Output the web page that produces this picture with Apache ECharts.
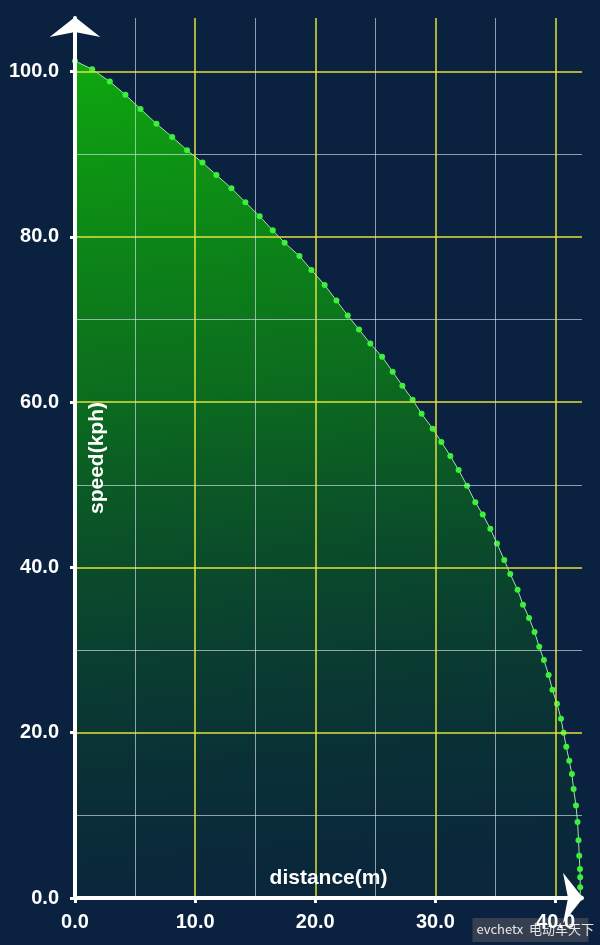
<!DOCTYPE html>
<html>
<head>
<meta charset="utf-8">
<script src="https://cdn.jsdelivr.net/npm/echarts@6/dist/echarts.min.js"></script>
<style>
  html, body { margin: 0; padding: 0; background: #0a2140; }
  #chart { width: 600px; height: 945px; }
</style>
</head>
<body>
<div id="chart"></div>
<script>
// braking run: distance (m) vs speed (kph)
const distance = [
  0, 1.43, 2.90, 4.20, 5.45, 6.78, 8.09, 9.33, 10.61, 11.77,
  13.02, 14.18, 15.37, 16.46, 17.45, 18.68, 19.68, 20.78, 21.76, 22.70,
  23.64, 24.58, 25.56, 26.44, 27.25, 28.10, 28.85, 29.77, 30.49, 31.24,
  31.93, 32.63, 33.32, 33.94, 34.57, 35.12, 35.73, 36.23, 36.84, 37.29,
  37.79, 38.25, 38.64, 39.03, 39.42, 39.74, 40.12, 40.45, 40.67, 40.89,
  41.14, 41.36, 41.50, 41.70, 41.83, 41.91, 41.97, 42.03, 42.05, 42.05,
  42.05
]
const speed = [
  101.3, 100.3, 98.8, 97.2, 95.5, 93.7, 92.1, 90.5, 89.0, 87.5,
  85.9, 84.2, 82.5, 80.8, 79.3, 77.7, 76.0, 74.2, 72.3, 70.5,
  68.8, 67.1, 65.5, 63.7, 62.0, 60.3, 58.6, 56.8, 55.2, 53.5,
  51.8, 49.9, 47.9, 46.4, 44.7, 42.9, 40.9, 39.2, 37.3, 35.5,
  33.9, 32.2, 30.4, 28.8, 27.0, 25.2, 23.5, 21.7, 20.0, 18.3,
  16.6, 15.0, 13.2, 11.2, 9.2, 7.0, 5.1, 3.5, 2.5, 1.3,
  0
]
const xMax = 42.2
const yMax = 106.5
const xName = 'distance(m)'
const yName = 'speed(kph)'

const chart = echarts.init(document.getElementById('chart'))

const labelStyle = {
  color: '#ffffff',
  fontFamily: 'Liberation Sans, Arial, sans-serif',
  fontWeight: 'bold',
  fontSize: 20,
  formatter: v => v.toFixed(1),
  showMaxLabel: false
}
const axisLine = {
  show: true,
  symbol: ['none', 'arrow'],
  symbolSize: [38, 20],
  symbolOffset: [0, 1],
  lineStyle: { color: '#ffffff', width: 4 }
}
const splitLine = { show: true, showMaxLine: false, lineStyle: { color: '#e0e03a', width: 1.5 } }
const minorSplitLine = { show: true, lineStyle: { color: 'rgba(215,225,240,0.65)', width: 1 } }
const nameStyle = {
  color: '#ffffff',
  fontFamily: 'Liberation Sans, Arial, sans-serif',
  fontWeight: 'bold',
  fontSize: 21,
  verticalAlign: 'middle'
}

chart.setOption({
  backgroundColor: '#0a2140',
  animation: false,
  grid: { left: 75, right: 18, top: 18, bottom: 47 },
  xAxis: {
    type: 'value',
    z: 5,
    min: 0,
    max: xMax,
    interval: 10,
    name: xName,
    nameLocation: 'middle',
    nameGap: -20,
    nameTextStyle: nameStyle,
    axisLine: axisLine,
    axisTick: { show: true, length: 5, lineStyle: { color: '#ffffff', width: 3 } },
    axisLabel: Object.assign({ margin: 14 }, labelStyle),
    splitLine: splitLine,
    minorTick: { show: false, splitNumber: 2 },
    minorSplitLine: minorSplitLine
  },
  yAxis: {
    type: 'value',
    z: 5,
    min: 0,
    max: yMax,
    interval: 20,
    name: yName,
    nameLocation: 'middle',
    nameGap: -22,
    nameTextStyle: nameStyle,
    axisLine: axisLine,
    axisTick: { show: true, length: 5, lineStyle: { color: '#ffffff', width: 3 } },
    axisLabel: Object.assign({ margin: 16 }, labelStyle),
    splitLine: splitLine,
    minorTick: { show: false, splitNumber: 2 },
    minorSplitLine: minorSplitLine
  },
  series: [{
    type: 'line',
    data: distance.map((d, i) => [d, speed[i]]),
    smooth: false,
    symbol: 'circle',
    symbolSize: 6,
    itemStyle: { color: '#3cf03c' },
    lineStyle: { color: '#9ae89a', width: 1 },
    areaStyle: {
      opacity: 1,
      color: new echarts.graphic.LinearGradient(0, 0, 0.15, 1, [
        { offset: 0, color: 'rgba(14,168,14,1)' },
        { offset: 0.4, color: 'rgba(12,122,24,0.85)' },
        { offset: 1, color: 'rgba(8,62,40,0.2)' }
      ])
    },
    z: 3
  }],
  graphic: [{
    type: 'group',
    right: 6,
    bottom: 3,
    children: [
      { type: 'rect', shape: { x: 0, y: 0, width: 116, height: 24 }, style: { fill: 'rgba(70,74,86,0.75)' } },
      { type: 'text', x: 4, y: 5, style: { text: 'evchetx  电动车天下', fill: '#e6e6e6', font: '13px "Noto Sans CJK SC", serif' } }
    ]
  }]
})
</script>
</body>
</html>
